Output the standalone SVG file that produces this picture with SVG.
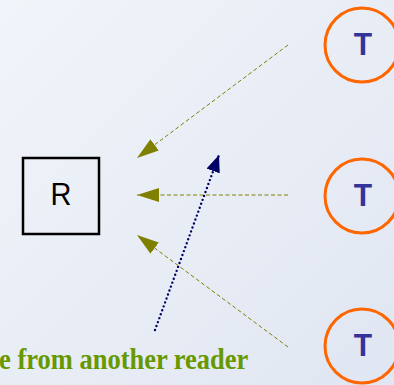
<svg xmlns="http://www.w3.org/2000/svg" width="394" height="385" viewBox="0 0 394 385">
  <defs>
    <linearGradient id="bg" x1="0" y1="0" x2="1" y2="1">
      <stop offset="0" stop-color="#f1f4f9"/>
      <stop offset="1" stop-color="#e0e6f2"/>
    </linearGradient>
    <marker id="olive-head" viewBox="0 0 22 14" refX="22" refY="7" markerWidth="22" markerHeight="14" markerUnits="userSpaceOnUse" orient="auto">
      <path d="M0,0 L22,7 L0,14 z" fill="#808000"/>
    </marker>
    <marker id="navy-head" viewBox="0 0 17 14" refX="17" refY="7" markerWidth="17" markerHeight="14" markerUnits="userSpaceOnUse" orient="auto">
      <path d="M0,0 L17,7 L0,14 z" fill="#000066"/>
    </marker>
  </defs>
  <style>
    .tag { fill: none; stroke: #ff6600; stroke-width: 3; }
    .tag-label { font-family: "Liberation Sans", Arial, sans-serif; font-weight: bold; font-size: 30px; fill: #333399; text-anchor: middle; }
    .reader { fill: none; stroke: #000000; stroke-width: 2.5; }
    .reader-label { font-family: "Liberation Sans", Arial, sans-serif; font-size: 29px; fill: #000000; text-anchor: middle; }
    .reply { fill: none; stroke: #808000; stroke-width: 1; stroke-dasharray: 4 2.5; marker-end: url(#olive-head); }
    .interference { fill: none; stroke: #000066; stroke-width: 2.4; stroke-linecap: round; stroke-dasharray: 0 4.2; marker-end: url(#navy-head); }
    .caption { font-family: "Liberation Serif", "Times New Roman", serif; font-weight: bold; font-size: 26.5px; fill: #669900; }
  </style>

  <rect width="394" height="385" fill="url(#bg)"/>

  <g id="connectors">
    <line class="reply" x1="288" y1="45" x2="137" y2="158"/>
    <line class="reply" x1="288" y1="195" x2="137" y2="195"/>
    <line class="reply" x1="288" y1="347" x2="137" y2="235"/>
    <line class="interference" x1="155" y1="330" x2="219" y2="155"/>
  </g>

  <g id="reader">
    <rect class="reader" x="23" y="158" width="76" height="76"/>
    <text class="reader-label" transform="translate(61,205) scale(1,1.1)">R</text>
  </g>

  <g id="tag-top">
    <circle class="tag" cx="362" cy="45" r="37"/>
    <text class="tag-label" transform="translate(363,55) scale(1,1.05)">T</text>
  </g>

  <g id="tag-middle">
    <circle class="tag" cx="362" cy="196" r="37"/>
    <text class="tag-label" transform="translate(363,206) scale(1,1.05)">T</text>
  </g>

  <g id="tag-bottom">
    <circle class="tag" cx="362" cy="346" r="37"/>
    <text class="tag-label" transform="translate(363,356) scale(1,1.05)">T</text>
  </g>

  <g id="caption">
    <text class="caption" transform="translate(-1,369) scale(1,1.1)">e from another reader</text>
  </g>
</svg>
